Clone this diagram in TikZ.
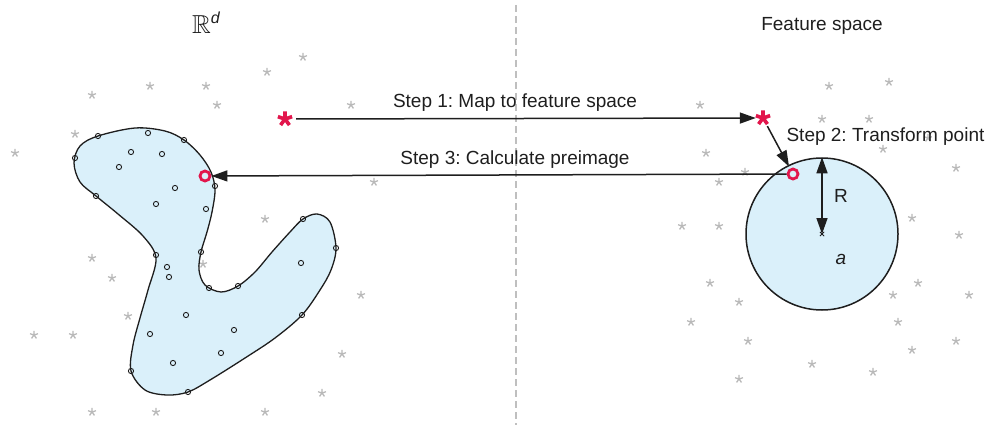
\documentclass[tikz,border=0pt]{standalone}
\usepackage{amssymb}
\usepackage{fontspec}
\setmainfont{Liberation Sans}
\usetikzlibrary{arrows.meta,plotmarks}
\definecolor{hot}{RGB}{226,22,76}
\definecolor{blobfill}{RGB}{218,240,250}
\definecolor{stargray}{RGB}{185,185,185}
\definecolor{ink}{RGB}{30,30,30}
\frenchspacing

\begin{document}
\begin{tikzpicture}[x=1pt, y=-1pt,
    font=\fontsize{19}{22}\selectfont, text=ink,
    arr/.style={-{Triangle[length=16pt,width=11pt]}, line width=1.5pt, draw=ink},
    spot/.style={circle, inner sep=0pt, minimum size=14pt},
    ring/.style={circle, draw=hot, line width=2.8pt, inner sep=0pt, minimum size=10pt},
    ball/.style={circle, draw=ink, fill=blobfill, line width=1.5pt, inner sep=0pt, minimum size=152pt},
    hotstar/.style={hot, line width=3.6pt, mark size=7.5pt},
    graystar/.style={stargray, line width=1.3pt, mark size=4.2pt}]
    \useasboundingbox (0,0) rectangle (987,425);

    % divider
    \draw[stargray!80!black!60, line width=1.5pt, dash pattern=on 7pt off 4pt] (516,5) -- (516,425);

    % background samples
    \draw[graystar] plot[only marks, mark=star] coordinates {
        (303,57) (267,72) (150,86) (206,86) (92,95) (217,105) (351,105) (75,134)
        (15,153) (374,182) (265,219) (92,258) (112,278) (203,264) (361,295)
        (128,316) (34,335) (73,335) (342,354) (322,393) (92,412) (156,412) (265,412)};
    \draw[graystar] plot[only marks, mark=star] coordinates {
        (829,86) (889,82) (700,105) (822,119) (869,119) (706,153) (883,149) (928,138)
        (956,168) (745,172) (719,182) (682,226) (719,226) (912,218) (959,235)
        (710,283) (739,302) (918,283) (893,295) (969,295) (691,322) (898,322)
        (748,341) (956,341) (912,350) (812,364) (873,372) (739,379)};

    % region in R^d
    \draw[ink, fill=blobfill, line width=1.3pt] plot[smooth cycle, tension=0.55] coordinates {
        (74,163) (80,146) (98,136) (135,128) (165,131) (184,140) (200,155) (211,172)
        (215,190) (212,212) (207,232) (201,252) (199,270) (205,285) (221,292)
        (238,286) (255,272) (272,252) (290,232) (303,219) (317,214) (330,222)
        (336,248) (331,270) (320,290) (302,315) (275,338) (245,358) (210,380)
        (188,392) (167,395) (145,390) (131,371) (133,345) (140,318) (148,290)
        (156,258) (143,236) (118,214) (96,196) (80,182)};
    \foreach \x/\y in {98/136, 75/158, 148/133, 184/140, 215/186, 96/196, 131/152,
        162/154, 119/167, 175/188, 156/204, 206/209, 156/255, 201/252, 167/267,
        169/277, 303/219, 336/248, 301/263, 209/288, 238/286, 302/315, 186/315,
        150/334, 234/330, 221/353, 173/363, 131/371, 188/392}
        \draw[ink, line width=0.9pt] (\x,\y) circle (2.6pt);

    % feature space ball
    \node[ball] (fs) at (822,234) {};
    \draw[ink, line width=0.8pt] plot[only marks, mark=x, mark size=3pt] coordinates {(fs.center)};

    % points
    \node[spot] (x) at (285,119) {};
    \node[spot] (y) at (763,118) {};
    \node[ring] (fo) at (793,174) {};
    \node[ring] (po) at (205,176) {};
    \draw[hotstar] plot[only marks, mark=star] coordinates {(x) (y)};

    % steps
    \draw[arr, shorten <=4pt] (x) -- (y);
    \draw[arr, shorten <=2pt, shorten >=2pt] (y) -- (fo);
    \draw[arr] (fo) -- (po);
    \draw[arr, {Triangle[length=16pt,width=11pt]}-{Triangle[length=16pt,width=11pt]}] (fs.north) -- (fs.center);

    % labels
    \node[anchor=base] (s1) at (515,107) {Step 1: Map to feature space};
    \node[anchor=base west] (s2) at (783,141) {Step 2: Transform point};
    \node[anchor=base] (s3) at (515,164) {Step 3: Calculate preimage};
    \node[anchor=base] (lr) at (841,202) {R};
    \node[anchor=base] (la) at (841,264) {\itshape a};
    \node[anchor=base] (fsl) at (822,31) {Feature space};
    \node[anchor=base west, inner sep=0pt] (rd) at (192,34)
        {\fontsize{26}{26}\selectfont$\mathbb{R}$\raisebox{10pt}{\fontsize{16}{16}\selectfont\itshape d}};
\end{tikzpicture}
\end{document}
